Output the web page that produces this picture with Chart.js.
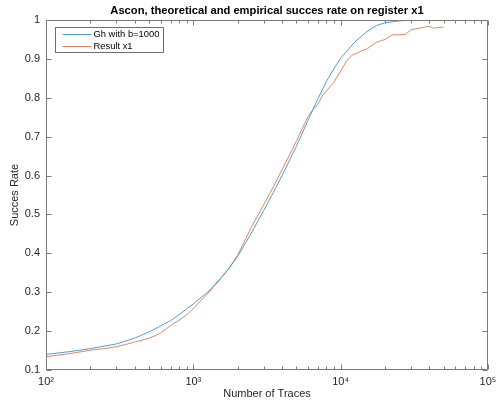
<!DOCTYPE html>
<html>
<head>
<meta charset="utf-8">
<script src="https://cdn.jsdelivr.net/npm/chart.js@4/dist/chart.umd.min.js"></script>
<style>
  html, body { margin: 0; padding: 0; background: #fff; }
  canvas { display: block; }
</style>
</head>
<body>
<canvas id="c" width="502" height="405"></canvas>
<script>
// Number of traces and success rate: theoretical model (b = 1000)
const theoryTraces = [100, 150, 200, 300, 400, 500, 600, 700, 800, 900, 1000, 1250, 1500, 1750, 2000,
  2500, 3000, 3500, 4000, 5000, 6000, 7000, 8000, 9000, 10000, 12500, 15000, 17500, 20000,
  25000, 30000, 35000, 40000, 45000, 50000];
const theoryRate = [0.140, 0.148, 0.155, 0.167, 0.182, 0.198, 0.213, 0.227, 0.242, 0.257, 0.270, 0.300,
  0.332, 0.362, 0.392, 0.455, 0.510, 0.557, 0.600, 0.675, 0.742, 0.797, 0.842, 0.875, 0.902,
  0.944, 0.970, 0.986, 0.993, 0.998, 1.000, 1.000, 1.000, 1.000, 1.000];

// Empirical success rate on register x1
const resultTraces = [100, 150, 200, 250, 300, 350, 400, 450, 500, 550, 600, 650, 700, 800, 900, 1000,
  1100, 1250, 1500, 1750, 2000, 2500, 3000, 3500, 4000, 5000, 6000, 6500, 7000, 7500, 8000, 9000,
  10000, 11000, 12000, 13000, 14000, 15000, 17500, 20000, 22500, 25000, 27500, 30000, 35000,
  40000, 42500, 45000, 50000];
const resultRate = [0.134, 0.143, 0.151, 0.155, 0.160, 0.166, 0.172, 0.177, 0.182, 0.188, 0.196, 0.205,
  0.214, 0.228, 0.242, 0.258, 0.275, 0.296, 0.330, 0.362, 0.396, 0.470, 0.525, 0.572, 0.615, 0.688,
  0.752, 0.770, 0.783, 0.805, 0.818, 0.840, 0.869, 0.895, 0.910, 0.915, 0.922, 0.925, 0.943, 0.950,
  0.962, 0.962, 0.963, 0.975, 0.980, 0.984, 0.979, 0.980, 0.982];

const seriesNames = ['Gh with b=1000', 'Result x1'];
const seriesColors = ['#4f9fd3', '#e3855e'];

const xTicks = [100, 1000, 10000, 100000];
const xTickLabels = ['10\u00B2', '10\u00B3', '10\u2074', '10\u2075'];
const yTicks = [0.1, 0.2, 0.3, 0.4, 0.5, 0.6, 0.7, 0.8, 0.9, 1];

const titleText = 'Ascon, theoretical and empirical succes rate on register x1';
const xTitle = 'Number of Traces';
const yTitle = 'Succes Rate';

const FONT = 'Helvetica, "Liberation Sans", Arial, sans-serif';
const AXIS_COLOR = '#7a7a7a';
const TEXT_COLOR = '#262626';

const toPoints = (xs, ys) => xs.map((x, i) => ({ x, y: ys[i] }));

// Box around the axes, inward tick marks and the legend
const framePlugin = {
  id: 'frame',
  afterDatasetsDraw(chart) {
    const { ctx, chartArea: a, scales: { x, y } } = chart;
    const L = Math.round(a.left) + 0.5, R = Math.round(a.right) - 0.5;
    const T = Math.round(a.top) + 0.5, B = Math.round(a.bottom) - 0.5;
    ctx.save();
    ctx.strokeStyle = AXIS_COLOR;
    ctx.lineWidth = 1;
    ctx.beginPath();
    ctx.rect(L, T, R - L, B - T);
    // y ticks on both sides
    yTicks.forEach(v => {
      const py = Math.round(y.getPixelForValue(v)) + 0.5;
      ctx.moveTo(L, py); ctx.lineTo(L + 5, py);
      ctx.moveTo(R, py); ctx.lineTo(R - 5, py);
    });
    // major and minor x ticks on bottom and top
    xTicks.forEach((d, i) => {
      const px = Math.round(x.getPixelForValue(d)) + 0.5;
      ctx.moveTo(px, B); ctx.lineTo(px, B - 5);
      ctx.moveTo(px, T); ctx.lineTo(px, T + 5);
      if (i < xTicks.length - 1) {
        for (let m = 2; m <= 9; m++) {
          const mx = Math.round(x.getPixelForValue(d * m)) + 0.5;
          ctx.moveTo(mx, B); ctx.lineTo(mx, B - 3);
          ctx.moveTo(mx, T); ctx.lineTo(mx, T + 3);
        }
      }
    });
    ctx.stroke();

    // legend
    const lx = Math.round(a.left) + 9.5, ly = Math.round(a.top) + 7.5;
    const lw = 108, lh = 25;
    ctx.fillStyle = '#fff';
    ctx.fillRect(lx, ly, lw, lh);
    ctx.strokeStyle = '#6e6e6e';
    ctx.strokeRect(lx, ly, lw, lh);
    ctx.font = '9.4px ' + FONT;
    ctx.textBaseline = 'middle';
    ctx.textAlign = 'left';
    chart.data.datasets.forEach((ds, i) => {
      const ry = ly + 6.5 + i * 11.5;
      ctx.strokeStyle = ds.borderColor;
      ctx.beginPath();
      ctx.moveTo(lx + 7, Math.round(ry) + 0.5);
      ctx.lineTo(lx + 36, Math.round(ry) + 0.5);
      ctx.stroke();
      ctx.fillStyle = '#000';
      ctx.fillText(ds.label, lx + 38, ry + 0.5);
    });
    ctx.restore();
  }
};

new Chart(document.getElementById('c'), {
  type: 'line',
  data: {
    datasets: [
      {
        label: seriesNames[0],
        data: toPoints(theoryTraces, theoryRate),
        borderColor: seriesColors[0],
        borderWidth: 1,
        pointRadius: 0,
        tension: 0,
        fill: false
      },
      {
        label: seriesNames[1],
        data: toPoints(resultTraces, resultRate),
        borderColor: seriesColors[1],
        borderWidth: 1,
        pointRadius: 0,
        tension: 0,
        fill: false
      }
    ]
  },
  options: {
    responsive: false,
    animation: false,
    devicePixelRatio: 1,
    layout: { padding: { top: 0, right: 14, bottom: 0, left: 0 } },
    plugins: {
      legend: { display: false },
      tooltip: { enabled: false },
      title: {
        display: true,
        fullSize: false,
        text: titleText,
        color: '#000',
        font: { family: FONT, size: 11.2, weight: 'bold', lineHeight: 1.2 },
        padding: { top: 4.2, bottom: 2.4 }
      }
    },
    scales: {
      x: {
        type: 'logarithmic',
        min: 100,
        max: 100000,
        grid: { display: false, drawTicks: false },
        border: { display: false },
        afterBuildTicks(scale) { scale.ticks = xTicks.map(v => ({ value: v })); },
        afterFit(scale) { scale.height = 35; },
        ticks: {
          autoSkip: false,
          maxRotation: 0,
          padding: 5,
          color: TEXT_COLOR,
          font: { family: FONT, size: 11 },
          callback: (v) => { const i = xTicks.indexOf(v); return i >= 0 ? xTickLabels[i] : ''; }
        },
        title: {
          display: true,
          text: xTitle,
          color: TEXT_COLOR,
          font: { family: FONT, size: 11 },
          padding: { top: 0, bottom: 4 }
        }
      },
      y: {
        type: 'linear',
        min: 0.1,
        max: 1,
        grid: { display: false, drawTicks: false },
        border: { display: false },
        afterBuildTicks(scale) { scale.ticks = yTicks.map(v => ({ value: v })); },
        afterFit(scale) { scale.width = 46; },
        ticks: {
          padding: 6,
          color: TEXT_COLOR,
          font: { family: FONT, size: 11 },
          callback: (v) => (v === 1 ? '1' : v.toFixed(1))
        },
        title: {
          display: true,
          text: yTitle,
          color: TEXT_COLOR,
          font: { family: FONT, size: 11 },
          padding: { top: 8.6, bottom: 0 }
        }
      }
    }
  },
  plugins: [framePlugin]
});
</script>
</body>
</html>
